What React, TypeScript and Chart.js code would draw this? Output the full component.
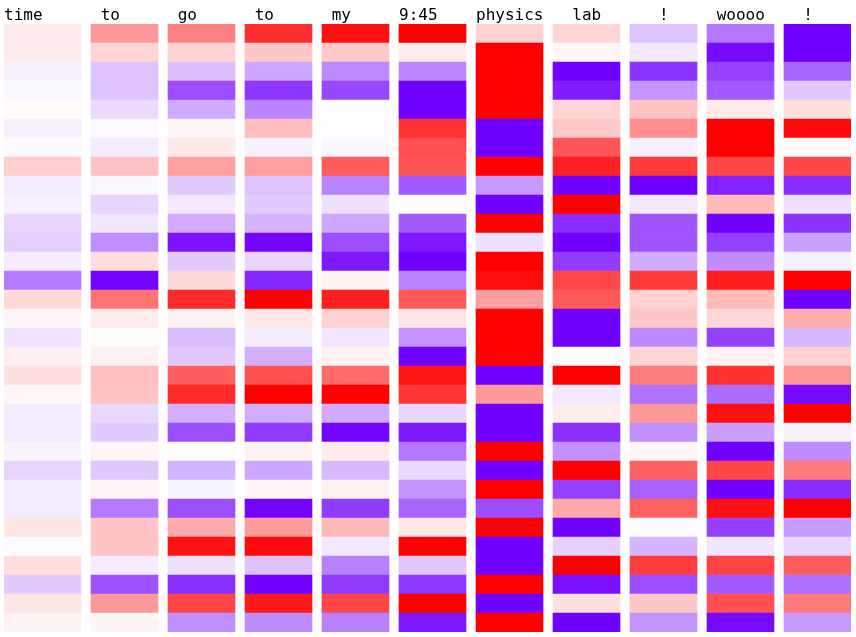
import React, { useEffect, useRef } from "react";
import { Chart, registerables } from "chart.js";

Chart.register(...registerables);

// Token labels (monospace, leading spaces kept as in the original layout)
const tokens = ["time", " to", " go", " to", " my", "9:45", "physics", "  lab", "   !", " woooo", "  !"];

// Activation values per token column, 32 rows each (top to bottom), range -1..1
const valTime = [0.08, 0.08, -0.05, -0.03, 0.02, -0.06, -0.02, 0.19, -0.08, -0.06, -0.16, -0.19, -0.07, -0.52, 0.15, 0.03, -0.11, 0.06, 0.12, 0.03, -0.08, -0.08, -0.04, -0.17, -0.07, -0.08, 0.1, -0.01, 0.13, -0.2, 0.1, 0.05];
const valTo1 = [0.4, 0.17, -0.23, -0.23, -0.14, -0.02, -0.07, 0.24, -0.03, -0.17, -0.1, -0.44, 0.13, -0.98, 0.55, 0.07, 0.01, 0.05, 0.25, 0.23, -0.15, -0.2, 0.03, -0.21, 0.03, -0.52, 0.23, 0.23, -0.07, -0.68, 0.4, 0.04];
const valGo = [0.5, 0.18, -0.25, -0.7, -0.33, 0.03, 0.09, 0.37, -0.2, -0.09, -0.33, -0.93, -0.2, 0.15, 0.83, 0.05, -0.26, -0.22, 0.63, 0.83, -0.31, -0.69, 0.01, -0.3, -0.04, -0.7, 0.33, 0.93, -0.12, -0.81, 0.73, -0.44];
const valTo2 = [0.82, 0.22, -0.35, -0.79, -0.48, 0.26, -0.06, 0.38, -0.23, -0.2, -0.3, -0.98, -0.16, -0.85, 1.0, 0.09, -0.07, -0.31, 0.69, 1.0, -0.32, -0.77, 0.05, -0.35, 0.03, -0.98, 0.39, 0.96, -0.24, -0.99, 0.9, -0.45];
const valMy = [0.94, 0.21, -0.46, -0.72, -0.01, -0.01, -0.03, 0.64, -0.49, -0.12, -0.35, -0.7, -0.9, 0.04, 0.88, 0.18, -0.1, 0.05, 0.58, 1.0, -0.33, -0.98, 0.08, -0.27, 0.05, -0.77, 0.28, -0.09, -0.5, -0.77, 0.72, -0.5];
const valTime945 = [1.0, 0.07, -0.47, -1.0, -1.0, 0.8, 0.69, 0.67, -0.65, -0.01, -0.65, -0.9, -1.0, -0.49, 0.65, 0.1, -0.42, -1.0, 0.92, 0.79, -0.16, -0.9, -0.53, -0.15, -0.42, -0.6, 0.09, 1.0, -0.22, -0.79, 1.0, -0.9];
const valPhysics = [0.18, 1, 1, 1, 1, -1, -1, 1, -0.4, -1, 1, -0.12, 1, 0.95, 0.38, 1, 1, 1, -1, 0.4, -1, -1, 1, -1, 1, -0.7, 1, -1, -1, 1, -1, 1];
const valLab = [0.17, 0.03, -1, -0.89, 0.17, 0.21, 0.66, 0.87, -1, 1, -0.82, -1, -0.77, 0.72, 0.65, -1, -1, 0.01, 1, -0.09, 0.07, -0.81, -0.43, 1, -0.75, 0.34, -1, -0.18, 1, -0.94, 0.12, -1];
const valBang1 = [-0.23, -0.09, -0.8, -0.41, 0.24, 0.44, -0.06, 0.77, -1, -0.09, -0.67, -0.67, -0.33, 0.77, 0.18, 0.22, -0.46, 0.17, 0.51, -0.55, 0.4, -0.44, 0.03, 0.62, -0.62, 0.62, -0.01, -0.29, 0.76, -0.7, 0.22, -0.42];
const valWoooo = [-0.53, -0.96, -0.75, -0.65, 0.08, 1, 1, 0.73, -0.87, 0.27, -1, -0.75, -0.45, 0.89, 0.27, 0.15, -0.75, 0.05, 0.81, -0.58, 0.94, -0.38, -1, 0.72, -1, 0.94, -0.75, -0.1, 0.74, -0.65, 0.69, -0.96];
const valBang2 = [-1, -1, -0.6, -0.21, 0.13, 0.96, 0.01, 0.72, -0.82, -0.12, -0.8, -0.37, -0.06, 1, -1, 0.32, -0.28, 0.18, 0.41, -0.97, 1, -0.06, -0.45, 0.52, -0.82, 1, -0.39, -0.16, 0.64, -0.56, 0.52, -0.4];

const columns = [valTime, valTo1, valGo, valTo2, valMy, valTime945, valPhysics, valLab, valBang1, valWoooo, valBang2];

// layout constants (pixels)
const COL_STEP = 77;
const COL_WIDTH = 67;
const FIRST_COL_WIDTH = 77;
const FIRST_SHIFT = -(FIRST_COL_WIDTH - COL_WIDTH) / 2 / COL_STEP;

function cellColor(v: number): string {
  const a = Math.min(1, Math.abs(v));
  const g = Math.round(255 * (1 - a));
  if (v >= 0) return `rgb(255,${g},${g})`;
  const r = Math.round(255 - 143 * a);
  return `rgb(${r},${g},255)`;
}

const labelPlugin = {
  id: "tokenLabels",
  afterDraw(chart: any) {
    const ctx = chart.ctx;
    ctx.save();
    ctx.font = "16px 'DejaVu Sans Mono', monospace";
    ctx.fillStyle = "#000";
    ctx.textAlign = "left";
    ctx.textBaseline = "alphabetic";
    tokens.forEach((t, i) => {
      const el = chart.getDatasetMeta(i).data[0];
      if (!el) return;
      const left = el.x - el.width / 2;
      ctx.fillText(t, left, chart.chartArea.top - 4);
    });
    ctx.restore();
  },
};

export default function App() {
  const ref = useRef<HTMLCanvasElement>(null);
  useEffect(() => {
    const datasets = columns.map((vals, c) => ({
      label: tokens[c],
      data: vals.map((v, r) => ({ x: c === 0 ? FIRST_SHIFT : c, y: [r, r + 1] })),
      backgroundColor: vals.map(cellColor),
      borderWidth: 0,
      barThickness: c === 0 ? FIRST_COL_WIDTH : COL_WIDTH,
      grouped: false,
    }));
    const chart = new Chart(ref.current as HTMLCanvasElement, {
      type: "bar",
      data: { datasets } as any,
      options: {
        animation: false,
        responsive: false,
        devicePixelRatio: 1,
        layout: { padding: { left: 4, top: 24, right: 5, bottom: 5 } },
        plugins: { legend: { display: false }, tooltip: { enabled: false } },
        scales: {
          x: {
            type: "linear",
            offset: false,
            min: -0.5 + FIRST_SHIFT,
            max: columns.length - 0.5 + FIRST_SHIFT,
            display: false,
          },
          y: { type: "linear", min: 0, max: 32, reverse: true, display: false },
        },
      } as any,
      plugins: [labelPlugin],
    });
    return () => chart.destroy();
  }, []);
  return (
    <div style={{ position: "absolute", left: 0, top: 0, width: 856, height: 637, background: "#fff" }}>
      <canvas ref={ref} width={856} height={637} style={{ display: "block", width: 856, height: 637 }} />
    </div>
  );
}
